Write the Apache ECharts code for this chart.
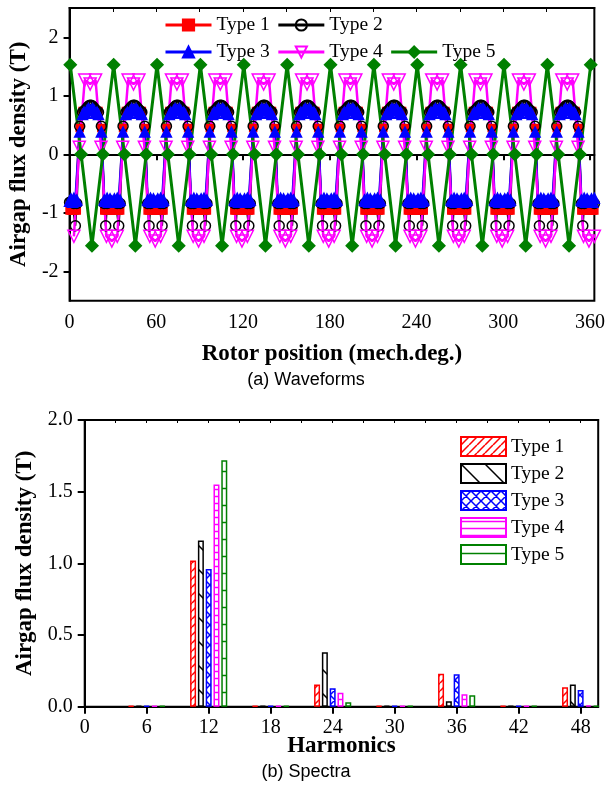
<!DOCTYPE html>
<html>
<head>
<meta charset="utf-8">
<script src="https://cdn.jsdelivr.net/npm/echarts@6/dist/echarts.min.js"></script>
<style>
  body { margin: 0; background: #fff; }
  #waveChart { position: absolute; left: 0; top: 0; width: 608px; height: 395px; }
  #spectrumChart { position: absolute; left: 0; top: 395px; width: 608px; height: 395px; }
</style>
</head>
<body>
<div id="waveChart"></div>
<div id="spectrumChart"></div>
<script>
// ---- (a) waveforms: one 30 deg slot period, repeated over the rotor turn ----
const period = 30;
const xMaxWave = 363;
const angleTicks = [0, 60, 120, 180, 240, 300, 360];
const fluxTicks = [-2, -1, 0, 1, 2];

// phases (deg inside a period) for Type 1-3
const phaseA = [0, 1, 2, 3, 4, 5, 7, 9, 10, 11, 12, 13, 14, 15, 16, 17, 18, 19, 20, 22, 24, 25, 26, 27, 28, 29];
const type1Period = [-0.96, -0.96, -0.96, -0.96, -0.96, -0.96, 0.45,
  0.74, 0.74, 0.74, 0.74, 0.74, 0.74, 0.74, 0.74, 0.74, 0.74, 0.74, 0.74,
  0.45, -0.96, -0.96, -0.96, -0.96, -0.96, -0.96];
const type2Period = [-0.82, -0.82, -0.82, -0.84, -1.22, -0.84, 0.48,
  0.72, 0.74, 0.76, 0.79, 0.82, 0.84, 0.84, 0.82, 0.79, 0.76, 0.74, 0.72,
  0.48, -0.84, -1.22, -0.84, -0.82, -0.82, -0.82];
const type3Period = [-0.8, -0.76, -0.82, -0.75, -0.8, -0.78, 0.38,
  0.68, 0.72, 0.7, 0.75, 0.78, 0.76, 0.76, 0.78, 0.75, 0.7, 0.72, 0.68,
  0.38, -0.78, -0.8, -0.75, -0.82, -0.76, -0.8];
// Type 4 and Type 5 are sampled more coarsely
const phaseB = [3, 6.75, 10.5, 14.25, 18, 21.75, 25.5, 29.25];
const type4Period = [-1.4, 0.12, 1.27, 1.2, 1.27, 0.12, -1.4, -1.48];
const phaseC = [0.5, 8, 15.5, 23];
const type5Period = [1.53, 0, -1.56, 0];

// ---- (b) spectra ----
const harmonics = [6, 12, 18, 24, 30, 36, 42, 48];
const spec1 = [0.005, 1.02, 0.005, 0.155, 0.005, 0.23, 0.005, 0.135];
const spec2 = [0.005, 1.16, 0.005, 0.38, 0.005, 0.038, 0.005, 0.155];
const spec3 = [0.005, 0.96, 0.005, 0.128, 0.005, 0.226, 0.005, 0.117];
const spec4 = [0.005, 1.55, 0.005, 0.098, 0.005, 0.086, 0.005, 0.01];
const spec5 = [0.005, 1.72, 0.005, 0.031, 0.005, 0.08, 0.005, 0.005];
const harmonicTicks = [0, 6, 12, 18, 24, 30, 36, 42, 48];

const serif = "'Liberation Serif', 'Times New Roman', serif";
const sans = "'Liberation Sans', Arial, sans-serif";

// repeat one period along the whole axis
function tile(phases, values) {
  const out = [];
  for (let k = 0; k * period <= xMaxWave; k++) {
    phases.forEach((p, i) => {
      const x = k * period + p;
      if (x <= xMaxWave) out.push([x, values[i]]);
    });
  }
  return out;
}

// hatch fill for the spectrum bars
function hatch(color, kind, size) {
  const c = document.createElement("canvas");
  c.width = size;
  c.height = size;
  const g = c.getContext("2d");
  g.fillStyle = "#fff";
  g.fillRect(0, 0, size, size);
  g.strokeStyle = color;
  g.lineWidth = 1.5;
  g.beginPath();
  [-size, 0, size].forEach((k) => {
    if (kind === "fwd" || kind === "cross") {
      g.moveTo(k, size);
      g.lineTo(k + size, 0);
    }
    if (kind === "back" || kind === "cross") {
      g.moveTo(k, 0);
      g.lineTo(k + size, size);
    }
  });
  if (kind === "hline") {
    g.moveTo(0, size / 2);
    g.lineTo(size, size / 2);
  }
  g.stroke();
  return { image: c, repeat: "repeat" };
}

const axisLineStyle = { color: "#000", width: 2 };
const tickLabel = { color: "#000", fontFamily: serif, fontSize: 20 };
const axisName = { color: "#000", fontFamily: serif, fontSize: 23, fontWeight: "bold" };

// 曲线图
const lineSeries = (name, color, data, symbol, size, fill, width) => ({
  name: name,
  type: "line",
  data: data,
  symbol: symbol,
  symbolSize: size,
  showAllSymbol: true,
  lineStyle: { color: color, width: width },
  itemStyle: { color: fill, borderColor: color, borderWidth: 1.5 },
});

const optionWave = {
  animation: false,
  grid: { left: 67.7, top: 8, width: 528.5, height: 292.7, show: true, borderColor: "#000", borderWidth: 2 },
  legend: [
    {
      left: 159, top: 10, itemWidth: 46, itemHeight: 14, itemGap: 7,
      data: ["Type 1", "Type 2"],
      lineStyle: { width: 3 },
      textStyle: { color: "#000", fontFamily: serif, fontSize: 19.5 },
    },
    {
      left: 159, top: 37, itemWidth: 46, itemHeight: 14, itemGap: 7,
      data: ["Type 3", "Type 4", "Type 5"],
      lineStyle: { width: 3 },
      textStyle: { color: "#000", fontFamily: serif, fontSize: 19.5 },
    },
  ],
  xAxis: [
    {
      type: "value", min: 0, max: xMaxWave, position: "bottom",
      axisLine: { lineStyle: axisLineStyle },
      axisTick: { customValues: angleTicks, length: 6, lineStyle: axisLineStyle },
      axisLabel: { customValues: angleTicks, margin: 12, ...tickLabel },
      splitLine: { show: false },
      name: "Rotor position (mech.deg.)", nameLocation: "middle", nameGap: 42,
      nameTextStyle: axisName,
    },
    {
      type: "value", min: 0, max: xMaxWave, position: "top",
      axisLine: { show: true, lineStyle: axisLineStyle },
      axisTick: { inside: true, length: 4, customValues: [30, 60, 90, 120, 150, 180, 210, 240, 270, 300, 330], lineStyle: { color: "#000", width: 1 } },
      axisLabel: { show: false },
      splitLine: { show: false },
    },
  ],
  yAxis: {
    type: "value", min: -2.5, max: 2.5,
    axisLine: { show: true, lineStyle: axisLineStyle },
    axisTick: { show: true, customValues: fluxTicks, length: 6, lineStyle: axisLineStyle },
    axisLabel: { customValues: fluxTicks, margin: 11, ...tickLabel },
    splitLine: { show: false },
    name: "Airgap flux density (T)", nameLocation: "middle", nameGap: 34,
    nameTextStyle: axisName,
  },
  graphic: [
    {
      type: "text", x: 306, y: 380,
      style: { text: "(a) Waveforms", fontFamily: sans, fontSize: 18, fill: "#000", align: "center", verticalAlign: "middle" },
    },
  ],
  series: [
    lineSeries("Type 1", "#ff0000", tile(phaseA, type1Period), "rect", 7, "#ff0000", 2.5),
    lineSeries("Type 2", "#000000", tile(phaseA, type2Period), "circle", 10, "rgba(255,255,255,0)", 2),
    lineSeries("Type 3", "#0000ff", tile(phaseA, type3Period), "triangle", 10, "#0000ff", 2.5),
    lineSeries("Type 4", "#ff00ff", tile(phaseB, type4Period), "path://M0,0 L10,0 L5,9 Z", 12, "rgba(255,255,255,0)", 2.5),
    lineSeries("Type 5", "#008000", tile(phaseC, type5Period), "diamond", 12, "#008000", 3),
  ],
};

// 频谱柱状图
const barSeries = (name, color, values, fill) => ({
  name: name,
  type: "bar",
  data: harmonics.map((h, i) => [h, values[i]]),
  barWidth: 6,
  barGap: "30%",
  clip: false,
  itemStyle: { color: fill, borderColor: color, borderWidth: 1.5 },
});

const optionSpectrum = {
  animation: false,
  grid: { left: 84.7, top: 25, width: 513.5, height: 286.7, show: true, borderColor: "#000", borderWidth: 2 },
  legend: {
    orient: "vertical", left: 455, top: 36, icon: "rect",
    itemWidth: 45, itemHeight: 19, itemGap: 6,
    textStyle: { color: "#000", fontFamily: serif, fontSize: 19.5 },
  },
  xAxis: [
    {
      type: "value", min: 0, max: 49.7, position: "bottom",
      axisLine: { lineStyle: axisLineStyle },
      axisTick: { customValues: harmonicTicks, length: 7, lineStyle: axisLineStyle },
      axisLabel: { customValues: harmonicTicks, margin: 11, ...tickLabel },
      splitLine: { show: false },
      name: "Harmonics", nameLocation: "middle", nameGap: 28, nameMoveOverlap: false,
      nameTextStyle: axisName,
    },
    {
      type: "value", min: 0, max: 49.7, position: "top",
      axisLine: { show: true, lineStyle: axisLineStyle },
      axisTick: { inside: true, length: 3, customValues: [3, 6, 9, 12, 15, 18, 21, 24, 27, 30, 33, 36, 39, 42, 45, 48], lineStyle: { color: "#000", width: 1 } },
      axisLabel: { show: false },
      splitLine: { show: false },
    },
  ],
  yAxis: {
    type: "value", min: 0, max: 2, interval: 0.5,
    axisLine: { show: true, lineStyle: axisLineStyle },
    axisTick: { show: true, length: 7, lineStyle: axisLineStyle },
    axisLabel: { margin: 12, formatter: (v) => v.toFixed(1), ...tickLabel },
    splitLine: { show: false },
    name: "Airgap flux density (T)", nameLocation: "middle", nameGap: 47,
    nameTextStyle: axisName,
  },
  graphic: [
    {
      type: "text", x: 306, y: 377,
      style: { text: "(b) Spectra", fontFamily: sans, fontSize: 18, fill: "#000", align: "center", verticalAlign: "middle" },
    },
  ],
  series: [
    barSeries("Type 1", "#ff0000", spec1, hatch("#ff0000", "fwd", 8)),
    barSeries("Type 2", "#000000", spec2, hatch("#000000", "back", 24)),
    barSeries("Type 3", "#0000ff", spec3, hatch("#0000ff", "cross", 10)),
    barSeries("Type 4", "#ff00ff", spec4, hatch("#ff00ff", "hline", 7)),
    barSeries("Type 5", "#008000", spec5, hatch("#008000", "hline", 17)),
  ],
};

const waveChart = echarts.init(document.getElementById("waveChart"));
waveChart.setOption(optionWave, true);
const spectrumChart = echarts.init(document.getElementById("spectrumChart"));
spectrumChart.setOption(optionSpectrum, true);
</script>
</body>
</html>
